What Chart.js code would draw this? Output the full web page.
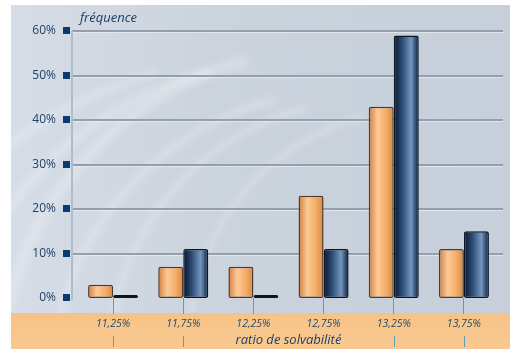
<!DOCTYPE html>
<html>
<head>
<meta charset="utf-8">
<script src="https://cdn.jsdelivr.net/npm/chart.js@4"></script>
<style>
  html, body { margin: 0; padding: 0; background: #fff; }
  #wrap { width: 510px; height: 349px; }
</style>
</head>
<body>
<div id="wrap"><canvas id="myChart" width="510" height="349"></canvas></div>
<script>
  const categories = ['11,25%', '11,75%', '12,25%', '12,75%', '13,25%', '13,75%'];
  const serieOrange = [3, 7, 7, 23, 43, 11];
  const serieBleu = [0, 11, 0, 11, 59, 15];
  const yTicks = [0, 10, 20, 30, 40, 50, 60];

  const FONT = '"Open Sans", "Noto Sans", sans-serif';
  const CAT_PCT = 0.713;

  // gradient across the width of one bar (side 0 = left bar, 1 = right bar)
  function barGradient(ctx, side, stops) {
    const chart = ctx.chart;
    const xs = chart.scales.x;
    if (!chart.chartArea || !xs) return stops[1];
    const step = xs.width / categories.length;
    const w = step * CAT_PCT / 2;
    const c = xs.getPixelForValue(ctx.dataIndex);
    const x0 = side === 0 ? c - w : c;
    const g = chart.ctx.createLinearGradient(x0, 0, x0 + w, 0);
    g.addColorStop(0, stops[0]);
    g.addColorStop(0.35, stops[1]);
    g.addColorStop(0.7, stops[2]);
    g.addColorStop(1, stops[3]);
    return g;
  }

  const decor = {
    id: 'decor',
    beforeDraw(chart) {
      const ctx = chart.ctx;
      ctx.save();
      ctx.fillStyle = '#ffffff';
      ctx.fillRect(0, 0, 510, 349);
      // fond gris-bleu
      const bg = ctx.createLinearGradient(11, 0, 510, 0);
      bg.addColorStop(0, '#d6dde6');
      bg.addColorStop(0.4, '#cbd3dd');
      bg.addColorStop(1, '#c6cfda');
      ctx.fillStyle = bg;
      ctx.fillRect(11, 5, 499, 308);
      // volutes claires, floues
      ctx.beginPath();
      ctx.rect(11, 5, 499, 308);
      ctx.clip();
      ctx.filter = 'blur(3px)';
      ctx.strokeStyle = 'rgba(255,255,255,0.22)';
      const arcs = [[330, 380, 330, 12], [350, 390, 300, 8], [300, 420, 360, 10], [370, 360, 260, 7], [260, 470, 410, 9], [420, 340, 230, 6]];
      arcs.forEach(([cx, cy, r, lw]) => {
        ctx.lineWidth = lw;
        ctx.beginPath();
        ctx.arc(cx, cy, r, Math.PI * 1.02, Math.PI * 1.42);
        ctx.stroke();
      });
      ctx.filter = 'none';
      ctx.restore();
      ctx.save();
      // bandeau pêche en bas
      const band = ctx.createLinearGradient(0, 313, 0, 349);
      band.addColorStop(0, '#f7c288');
      band.addColorStop(1, '#f9c990');
      ctx.fillStyle = band;
      ctx.fillRect(11, 313, 499, 36);
      // lignes horizontales et axe vertical
      const ys = chart.scales.y;
      yTicks.forEach(v => {
        if (v === 0) return;
        const y = Math.round(ys.getPixelForValue(v));
        ctx.fillStyle = '#949fad';
        ctx.fillRect(72, y - 1, 431, 2);
        ctx.fillStyle = 'rgba(235,240,246,0.7)';
        ctx.fillRect(72, y + 1, 431, 1);
      });
      ctx.fillStyle = '#aebdcc';
      ctx.fillRect(71, ys.getPixelForValue(60), 2, ys.getPixelForValue(0) - ys.getPixelForValue(60) + 2);
      ctx.restore();
    },
    afterDraw(chart) {
      const ctx = chart.ctx;
      const ys = chart.scales.y;
      const xs = chart.scales.x;
      ctx.save();
      // carrés de graduation
      ctx.fillStyle = '#0b3a6e';
      yTicks.forEach(v => {
        const y = Math.round(ys.getPixelForValue(v));
        ctx.fillRect(63, y - 4, 7, 7);
      });
      // petits traits sous les libellés
      ctx.fillStyle = '#5f9db4';
      [0, 1, 4, 5].forEach(i => {
        const x = Math.round(xs.getPixelForValue(i));
        ctx.fillRect(x, 336, 1, 11);
      });
      // titre de l'axe vertical
      ctx.fillStyle = '#1d3f66';
      ctx.font = 'italic 13px ' + FONT;
      ctx.textBaseline = 'middle';
      ctx.fillText('fréquence', 80, 18);
      ctx.restore();
    }
  };

  const data = {
    labels: categories,
    datasets: [{
      label: 'orange',
      data: serieOrange,
      backgroundColor: ctx => barGradient(ctx, 0, ['#d27c3e', '#fcca95', '#f3ad68', '#d9873f']),
      borderColor: '#4f3b2e',
      borderWidth: 1.5,
      borderRadius: 2,
      borderSkipped: false,
    }, {
      label: 'bleu',
      data: serieBleu,
      backgroundColor: ctx => barGradient(ctx, 1, ['#061329', '#2f4e78', '#7397bf', '#0a1a36']),
      borderColor: '#0a1626',
      borderWidth: 1.5,
      borderRadius: 2,
      borderSkipped: false,
      minBarLength: 3,
    }]
  };

  const config = {
    type: 'bar',
    data: data,
    options: {
      responsive: false,
      animation: false,
      layout: { padding: { top: 31, right: 11, left: 0, bottom: 0 } },
      datasets: { bar: { categoryPercentage: CAT_PCT, barPercentage: 1 } },
      plugins: { legend: { display: false }, tooltip: { enabled: false } },
      scales: {
        x: {
          offset: true,
          afterFit: s => { s.height = 51; },
          grid: { offset: false, drawOnChartArea: false, drawTicks: true, tickLength: 16, tickColor: '#5f9db4', tickWidth: 1 },
          border: { display: false },
          ticks: { color: '#1d4a6a', padding: 4, font: { family: FONT, size: 10.5, style: 'italic' } },
          title: { display: true, text: 'ratio de solvabilité', color: '#1d3f66', padding: { top: 0, bottom: 1 }, font: { family: FONT, size: 13, style: 'italic' } }
        },
        y: {
          min: 0,
          max: 60,
          afterFit: s => { s.width = 78; },
          afterBuildTicks: s => { s.ticks = yTicks.map(v => ({ value: v })); },
          grid: { display: false, drawTicks: false },
          border: { display: false },
          ticks: { color: '#1d3f66', padding: 22, font: { family: FONT, size: 12 }, callback: v => v + '%' }
        }
      }
    },
    plugins: [decor]
  };

  const myChart = new Chart(
    document.getElementById('myChart'),
    config
  );
</script>
</body>
</html>
